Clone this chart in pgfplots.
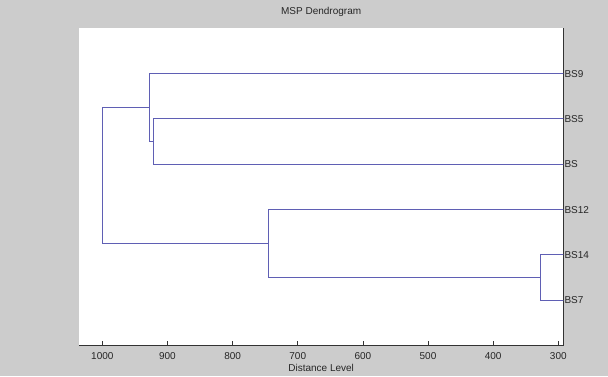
\documentclass[border=0pt]{standalone}
\usepackage{fontspec}
\setmainfont{Liberation Sans}
\usepackage{pgfplots}
\pgfplotsset{compat=1.18}
\definecolor{figbg}{RGB}{204,204,204}
\definecolor{dendro}{RGB}{95,95,180}
\begin{document}
\begin{tikzpicture}[x=1bp,y=1bp]
\fill[figbg] (0,0) rectangle (608,376);
\useasboundingbox (0,0) rectangle (608,376);
\begin{axis}[
  at={(79bp,30.5bp)}, anchor=south west,
  scale only axis, width=484.3bp, height=317.2bp,
  xmin=292.3, xmax=1035.8, ymin=0, ymax=7,
  x dir=reverse,
  axis background/.style={fill=white},
  axis x line*=bottom, axis y line*=right,
  axis line style={black!80, line width=0.6bp},
  xtick={300,400,...,1000},
  ytick={1,...,6},
  yticklabels={BS7,BS14,BS12,BS,BS5,BS9},
  tick align=inside,
  major tick length=4.5bp,
  x tick style={black!80, line width=0.5bp},
  y tick style={draw=none},
  /pgf/number format/assume math mode=true,
  /pgf/number format/1000 sep={},
  tick label style={font=\fontsize{10bp}{12bp}\selectfont, text=black!85},
  xticklabel style={yshift=-3bp},
  yticklabel style={inner xsep=0pt, xshift=1bp},
  title={MSP Dendrogram},
  title style={at={(0.5,1)}, anchor=base, yshift=8.3bp, font=\fontsize{10bp}{12bp}\selectfont, text=black!85},
  xlabel={Distance Level},
  xlabel style={at={(0.5,0)}, anchor=base, yshift=-26.2bp, font=\fontsize{10bp}{12bp}\selectfont, text=black!85},
  unbounded coords=jump,
  clip=true,
]
\addplot[draw=dendro, color=dendro, line width=1bp, no markers] coordinates {
  (0,2) (327,2) (327,1) (0,1)
  (nan,nan)
  (0,3) (745,3) (745,1.5) (327,1.5)
  (nan,nan)
  (0,5) (921,5) (921,4) (0,4)
  (nan,nan)
  (0,6) (927,6) (927,4.5) (921,4.5)
  (nan,nan)
  (927,5.25) (1000,5.25) (1000,2.25) (745,2.25)
};
\end{axis}
\end{tikzpicture}
\end{document}
